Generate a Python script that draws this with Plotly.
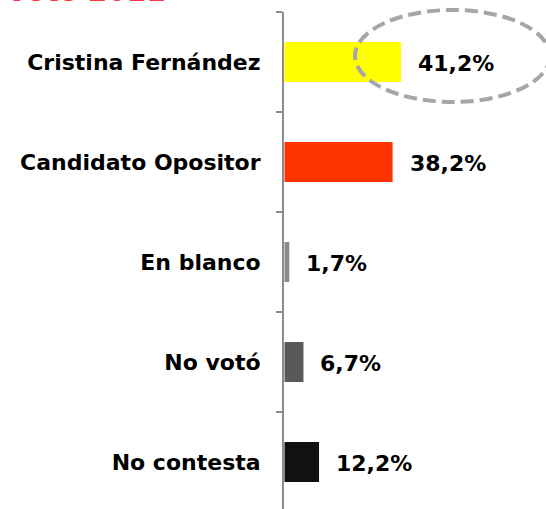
import plotly.graph_objects as go

# Encuesta de voto 2011
categorias = ["Cristina Fernández", "Candidato Opositor", "En blanco", "No votó", "No contesta"]
porcentajes = [41.2, 38.2, 1.7, 6.7, 12.2]
colores = ["#ffff00", "#ff3300", "#8c8c8c", "#595959", "#111111"]

etiquetas = [f"{v:.1f}%".replace(".", ",") for v in porcentajes]

W, H = 546, 509
ML, MT = 284, 12
PW, PH = W - ML, H - MT

fig = go.Figure()
fig.add_trace(go.Bar(
    x=porcentajes,
    y=categorias,
    orientation="h",
    marker=dict(color=colores, line=dict(width=0)),
    width=0.4,
    showlegend=False,
    hoverinfo="skip",
))

# Valores a la derecha de cada barra
for cat, val, txt in zip(categorias, porcentajes, etiquetas):
    fig.add_annotation(
        x=val, y=cat, xref="x", yref="y",
        text=f"<b>{txt}</b>", showarrow=False,
        xanchor="left", yanchor="middle", xshift=15, yshift=-1,
        font=dict(family="DejaVu Sans", size=22, color="#000000"),
    )

# Elipse punteada que destaca el primer resultado
def px_x(p):
    return (p - ML) / PW

def px_y(p):
    return (H - p) / PH

fig.add_shape(
    type="circle", xref="paper", yref="paper",
    x0=px_x(355), x1=px_x(550), y0=px_y(102), y1=px_y(10),
    line=dict(color="#a6a6a6", width=4, dash="13px,6px"),
    fillcolor="rgba(0,0,0,0)", layer="above",
)

# Título (parcialmente fuera del encuadre)
fig.add_annotation(
    x=px_x(4), y=1, xref="paper", yref="paper",
    text="<b>Voto 2011</b>", showarrow=False,
    xanchor="left", yanchor="bottom", yshift=2,
    font=dict(family="DejaVu Sans", size=28, color="#ff3344"),
)

fig.update_layout(
    width=W, height=H,
    margin=dict(l=ML, r=0, t=MT, b=0, pad=0),
    paper_bgcolor="white", plot_bgcolor="white",
    bargap=0.6,
    xaxis=dict(
        range=[-0.18, 92.4], visible=False, fixedrange=True,
    ),
    yaxis=dict(
        type="category",
        categoryorder="array", categoryarray=categorias,
        range=[4.47, -0.5],
        showline=True, linecolor="#8c8c8c", linewidth=2,
        ticks="outside", tickson="boundaries", ticklen=6,
        tickcolor="#8c8c8c", tickwidth=2,
        showgrid=False, zeroline=False,
        tickfont=dict(family="DejaVu Sans", size=22, color="#000000"),
        ticklabelstandoff=17,
        tickprefix="<b>", ticksuffix="</b>",
    ),
)

fig.write_html("out.html")
